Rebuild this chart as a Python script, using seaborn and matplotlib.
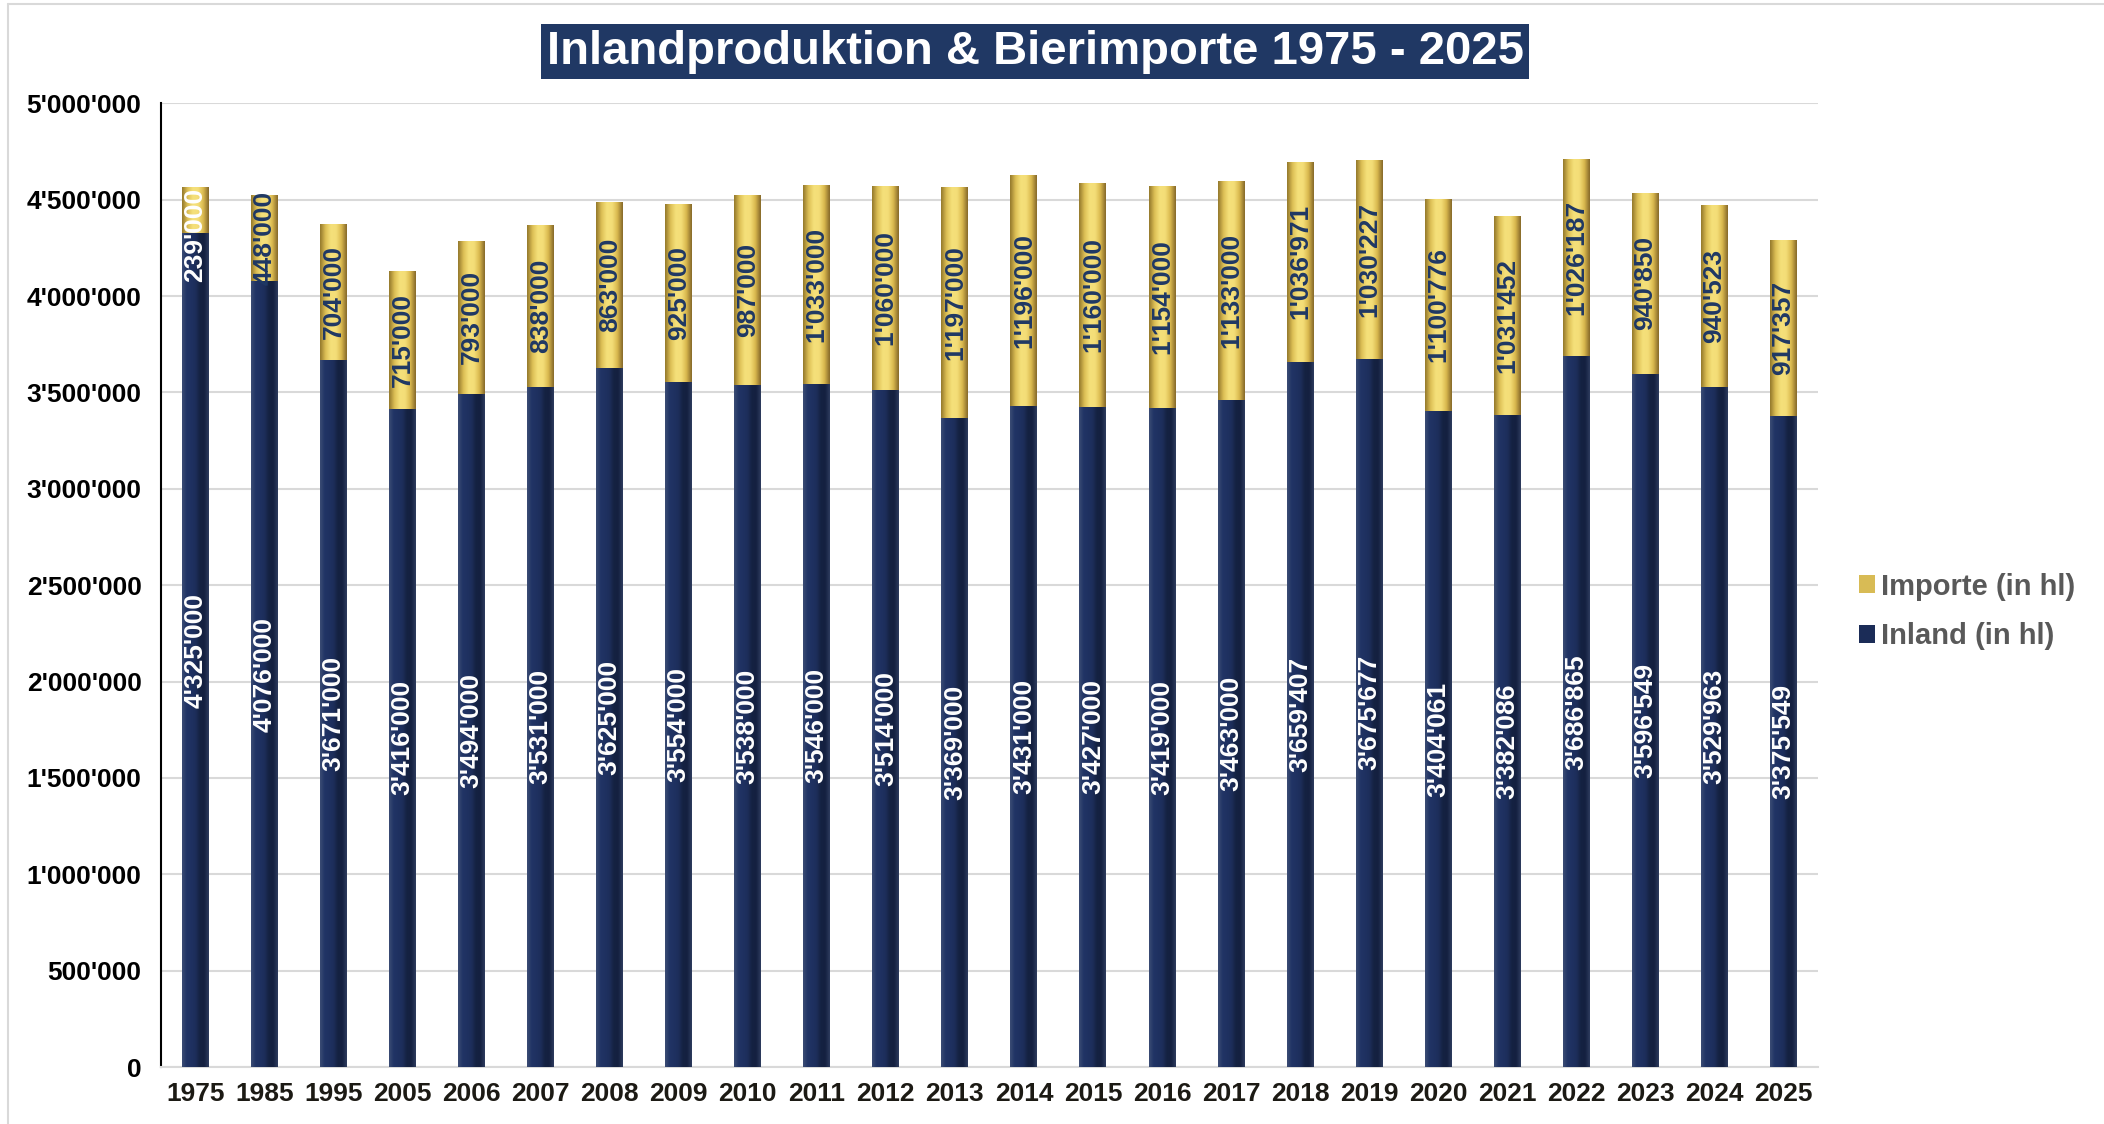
import numpy as np
import pandas as pd
import matplotlib
matplotlib.use("Agg")
import matplotlib.pyplot as plt
import seaborn as sns
from matplotlib import font_manager
from matplotlib.colors import LinearSegmentedColormap
from matplotlib.lines import Line2D
from matplotlib.patches import Patch

# ── Data ─────────────────────────────────────
years = [1975, 1985, 1995, 2005, 2006, 2007, 2008, 2009, 2010, 2011, 2012, 2013,
         2014, 2015, 2016, 2017, 2018, 2019, 2020, 2021, 2022, 2023, 2024, 2025]
inland = [4325000, 4076000, 3671000, 3416000, 3494000, 3531000, 3625000, 3554000,
          3538000, 3546000, 3514000, 3369000, 3431000, 3427000, 3419000, 3463000,
          3659407, 3675677, 3404061, 3382086, 3686865, 3596549, 3529963, 3375549]
importe = [239000, 448000, 704000, 715000, 793000, 838000, 863000, 925000,
           987000, 1033000, 1060000, 1197000, 1196000, 1160000, 1154000, 1133000,
           1036971, 1030227, 1100776, 1031452, 1026187, 940850, 940523, 917357]
y_ticks = [0, 500000, 1000000, 1500000, 2000000, 2500000, 3000000, 3500000,
           4000000, 4500000, 5000000]

TITLE = "Inlandproduktion & Bierimporte 1975 - 2025"
NAVY = "#1b2c57"
GOLD = "#efd66c"
TITLE_BG = "#203864"


def swiss(v):
    return f"{int(v):,}".replace(",", "'")


df = pd.DataFrame({"Jahr": [str(y) for y in years], "Inland": inland, "Importe": importe})
df["Total"] = df["Inland"] + df["Importe"]

# ── Setup ────────────────────────────────────
sns.set_theme(style="white")
installed = {f.name for f in font_manager.fontManager.ttflist}
if "Liberation Sans Narrow" in installed:
    # the original uses a narrow bold face (Arial Narrow)
    plt.rcParams["font.family"] = ["Liberation Sans Narrow", "Liberation Sans", "DejaVu Sans"]
    k = 1.2
else:
    plt.rcParams["font.family"] = ["Liberation Sans", "DejaVu Sans"]
    k = 1.0
plt.rcParams["font.weight"] = "bold"

fig = plt.figure(figsize=(21.04, 11.24), dpi=100)
ax = fig.add_axes([0.0765, 0.0507, 0.7875, 0.8573])

sns.barplot(data=df, x="Jahr", y="Total", color=GOLD, width=0.39, saturation=1,
            errorbar=None, edgecolor="none", ax=ax, zorder=2)
sns.barplot(data=df, x="Jahr", y="Inland", color=NAVY, width=0.39, saturation=1,
            errorbar=None, edgecolor="none", ax=ax, zorder=3)
gold_bars, navy_bars = ax.containers[0], ax.containers[1]

# ── Fake 3D shading (horizontal gradients clipped to each bar) ──
gold_cmap = LinearSegmentedColormap.from_list(
    "gold", ["#94792c", "#dcbf55", "#f5e07a", "#f4de78", "#d9b84e", "#86692a"])
navy_cmap = LinearSegmentedColormap.from_list(
    "navy", ["#3b4c74", "#213465", "#1f3161", "#1d2e5b", "#152242", "#142040", "#2e3c5e"])
grad = np.linspace(0, 1, 64).reshape(1, -1)

for p, inl, imp in zip(gold_bars.patches, inland, importe):
    x0, w = p.get_x(), p.get_width()
    im = ax.imshow(grad, cmap=gold_cmap, aspect="auto", extent=(x0, x0 + w, inl, inl + imp),
                   zorder=2.5, interpolation="bicubic")
    im.set_clip_path(p)
for p in navy_bars.patches:
    x0, w = p.get_x(), p.get_width()
    im = ax.imshow(grad, cmap=navy_cmap, aspect="auto",
                   extent=(x0, x0 + w, p.get_y(), p.get_y() + p.get_height()),
                   zorder=3.5, interpolation="bicubic")
    im.set_clip_path(p)

ax.set_xlim(-0.5, len(years) - 0.5)
ax.set_ylim(0, 5000000)

# ── Data labels ──────────────────────────────
ax.bar_label(navy_bars, labels=[swiss(v) for v in inland], label_type="center",
             rotation=90, color="white", fontsize=19 * k, fontweight="bold", zorder=6)
for i, (p, inl, imp) in enumerate(zip(gold_bars.patches, inland, importe)):
    short = imp < 300000  # label longer than the segment: hang it from the bar top
    ax.text(p.get_x() + p.get_width() / 2, inl + imp if short else inl + imp / 2, swiss(imp),
            rotation=90, ha="center", va="top" if short else "center",
            fontsize=19 * k, fontweight="bold",
            color="white" if short else "#1f3864", zorder=6)

# ── Axes styling ─────────────────────────────
ax.set_yticks(y_ticks)
ax.set_yticklabels([swiss(v) for v in y_ticks], fontsize=19 * k, fontweight="bold", color="black")
ax.set_xticks(range(len(years)))
ax.set_xticklabels([str(y) for y in years], fontsize=19 * k, fontweight="bold", color="#1c1a14")
ax.tick_params(axis="y", length=0, pad=14)
ax.tick_params(axis="x", length=0, pad=11)
ax.set_xlabel("")
ax.set_ylabel("")
ax.yaxis.grid(True, color="#d9d9d9", lw=1.5)
ax.set_axisbelow(True)
for side in ["top", "right"]:
    ax.spines[side].set_visible(False)
ax.spines["left"].set_color("black")
ax.spines["left"].set_linewidth(1.5)
ax.spines["bottom"].set_color("#d9d9d9")
ax.spines["bottom"].set_linewidth(1.5)

# ── Title & legend ───────────────────────────
fig.text(0.492, 0.954, TITLE, ha="center", va="center", fontsize=34 * k, fontweight="bold",
         color="white", bbox=dict(boxstyle="square,pad=0.12", fc=TITLE_BG, ec="none"))

handles = [Patch(facecolor="#d8bb55", edgecolor="none"), Patch(facecolor=NAVY, edgecolor="none")]
fig.legend(handles, ["Importe (in hl)", "Inland (in hl)"], loc="center left",
           bbox_to_anchor=(0.871, 0.456), frameon=False, handlelength=0.55, handleheight=0.55,
           handletextpad=0.2, labelspacing=0.75, prop={"size": 21, "weight": "bold"},
           labelcolor="#595959")

# thin chart border (top & left visible in the original)
fig.add_artist(Line2D([0.004, 0.004], [0, 0.996], transform=fig.transFigure,
                      color="#d9d9d9", lw=1.5))
fig.add_artist(Line2D([0.004, 1.0], [0.996, 0.996], transform=fig.transFigure,
                      color="#d9d9d9", lw=1.5))

fig.savefig("out.png", dpi=100)
plt.close(fig)
